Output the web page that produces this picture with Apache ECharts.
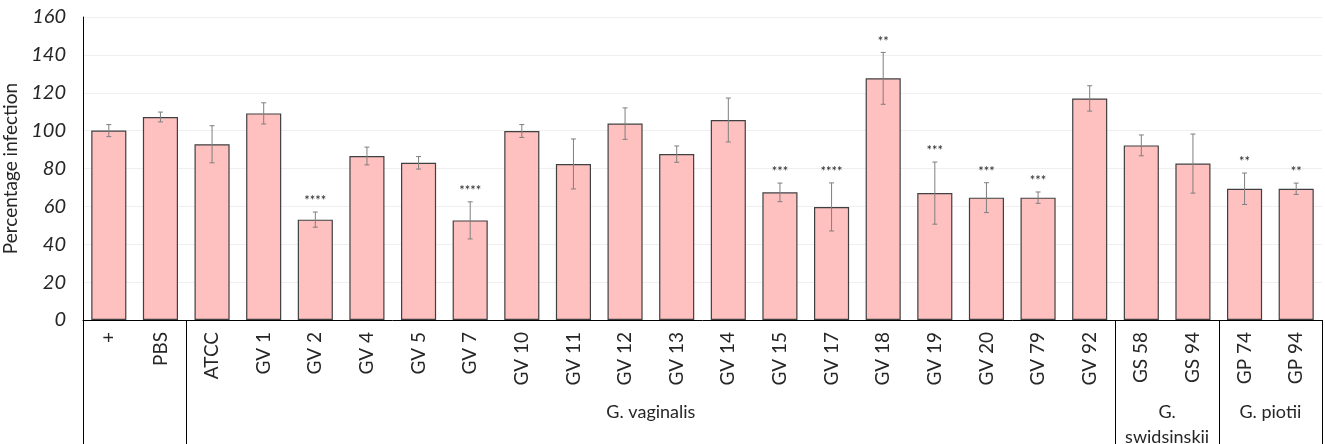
<!DOCTYPE html>
<html>
<head>
<meta charset="utf-8">
<script src="https://cdn.jsdelivr.net/npm/echarts@6/dist/echarts.min.js"></script>
<style>
html,body{margin:0;padding:0;background:#fff;}
#chart{width:1325px;height:444px;}
</style>
</head>
<body>
<div id="chart"></div>
<script>
const categories = ['+', 'PBS', 'ATCC', 'GV 1', 'GV 2', 'GV 4', 'GV 5', 'GV 7', 'GV 10', 'GV 11', 'GV 12', 'GV 13', 'GV 14', 'GV 15', 'GV 17', 'GV 18', 'GV 19', 'GV 20', 'GV 79', 'GV 92', 'GS 58', 'GS 94', 'GP 74', 'GP 94'];
const values = [100, 107.2, 92.8, 109.1, 53, 86.6, 83, 52.6, 99.8, 82.4, 103.7, 87.6, 105.6, 67.4, 59.7, 127.6, 67, 64.6, 64.6, 117, 92.2, 82.6, 69.3, 69.3];
const errors = [3.2, 2.6, 9.8, 5.6, 4, 4.7, 3.3, 9.8, 3.4, 13.2, 8.3, 4.3, 11.6, 4.9, 12.7, 13.7, 16.4, 7.9, 3, 6.7, 5.5, 15.6, 8.3, 3];
const significance = ['', '', '', '', '****', '', '', '****', '', '', '', '', '', '***', '****', '**', '***', '***', '***', '', '', '', '**', '**'];
const groupNames = ['', 'G. vaginalis', 'G.\nswidsinskii', 'G. piotii'];
const groupSizes = [2, 18, 2, 2];
const yMin = 0, yMax = 160, yStep = 20;

const FONT = 'Lato, "Open Sans", sans-serif';

// group boundaries and centres (in category units)
const boundaries = [0];
const centres = [];
groupSizes.forEach(function (n, i) {
  const start = boundaries[boundaries.length - 1];
  centres.push(start + n / 2);
  boundaries.push(start + n);
});

const chart = echarts.init(document.getElementById('chart'), null, {renderer: 'canvas'});

const option = {
  animation: false,
  backgroundColor: '#ffffff',
  grid: {left: 83, right: 3, top: 17, bottom: 124, containLabel: false, outerBoundsMode: 'none'},
  xAxis: [
    {
      type: 'category',
      data: categories,
      position: 'bottom',
      axisLine: {show: true, lineStyle: {color: '#000', width: 1}},
      axisTick: {show: false},
      axisLabel: {rotate: 90, interval: 0, margin: 12, fontSize: 19, fontFamily: FONT, color: '#262626'},
      splitLine: {show: false}
    },
    {
      type: 'value',
      min: 0,
      max: categories.length,
      position: 'bottom',
      axisLine: {show: false},
      axisTick: {show: true, customValues: boundaries, length: 124, inside: false, lineStyle: {color: '#000', width: 1}},
      axisLabel: {
        show: true,
        customValues: centres.filter(function (c, i) { return groupNames[i] !== ''; }),
        margin: 80,
        fontSize: 18,
        fontFamily: FONT,
        color: '#262626',
        lineHeight: 25,
        formatter: function (v) { return groupNames[centres.indexOf(v)]; }
      },
      splitLine: {show: false}
    }
  ],
  yAxis: {
    type: 'value',
    min: yMin,
    max: yMax,
    interval: yStep,
    name: 'Percentage infection',
    nameLocation: 'middle',
    nameGap: 55,
    nameTextStyle: {fontSize: 19, fontFamily: FONT, color: '#262626'},
    axisLine: {show: true, lineStyle: {color: '#000', width: 1}},
    axisTick: {show: false},
    axisLabel: {fontSize: 20, fontStyle: 'italic', fontFamily: FONT, color: '#262626', margin: 17},
    splitLine: {show: true, lineStyle: {color: '#efefef', width: 1}}
  },
  series: [
    {
      type: 'bar',
      data: values,
      barCategoryGap: '32%',
      itemStyle: {color: '#ffc0c0', borderColor: '#404040', borderWidth: 1.2},
      z: 2
    },
    {
      type: 'custom',
      data: categories.map(function (c, i) { return [i, values[i], errors[i]]; }),
      encode: {x: 0, y: 1},
      z: 5,
      renderItem: function (params, api) {
        const x = api.value(0), v = api.value(1), e = api.value(2);
        const top = api.coord([x, v + e]);
        const bot = api.coord([x, v - e]);
        const cap = 2.5;
        const st = {stroke: '#7f7f7f', lineWidth: 1};
        const children = [
          {type: 'line', shape: {x1: top[0], y1: top[1], x2: bot[0], y2: bot[1]}, style: st},
          {type: 'line', shape: {x1: top[0] - cap, y1: top[1], x2: top[0] + cap, y2: top[1]}, style: st},
          {type: 'line', shape: {x1: bot[0] - cap, y1: bot[1], x2: bot[0] + cap, y2: bot[1]}, style: st}
        ];
        const s = significance[params.dataIndex];
        if (s) {
          children.push({type: 'text', style: {text: s, x: top[0], y: top[1] - 11, align: 'center', verticalAlign: 'middle', font: '13px ' + FONT, fill: '#262626'}});
        }
        return {type: 'group', children: children};
      }
    }
  ]
};
chart.setOption(option);
</script>
</body>
</html>
